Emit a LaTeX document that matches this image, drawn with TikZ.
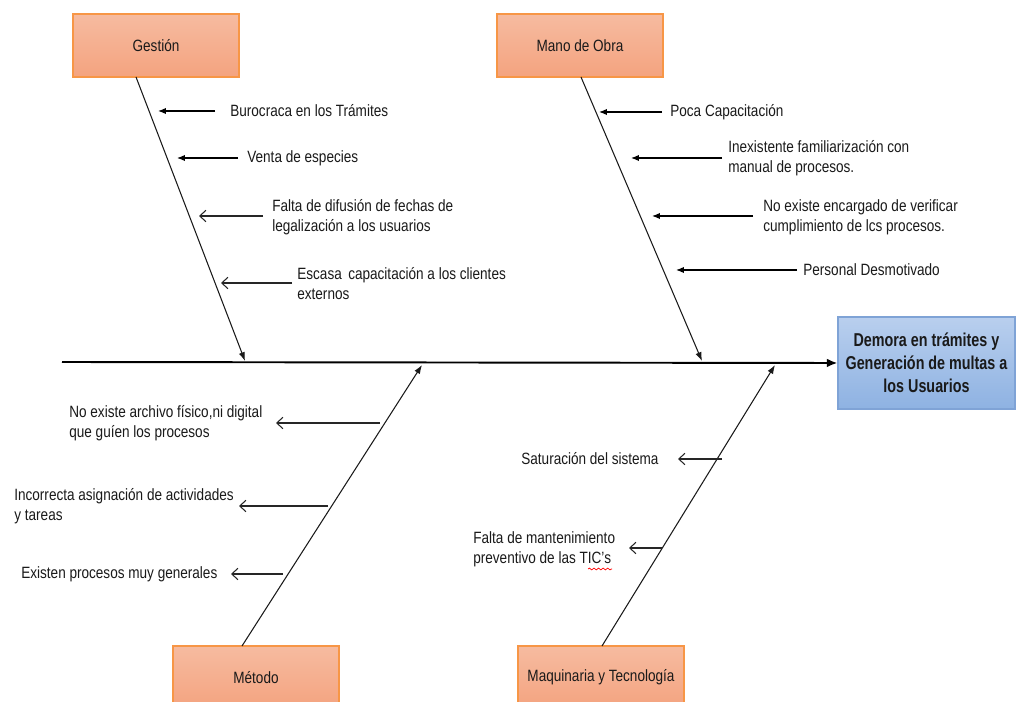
\documentclass[tikz,border=0pt]{standalone}
\usepackage{fontspec}
\setmainfont{Liberation Sans}[FakeStretch=0.83]
\newfontfamily\headfont{Liberation Sans}[FakeStretch=0.77]
\usetikzlibrary{arrows.meta,decorations.pathmorphing}

\definecolor{orangeedge}{HTML}{F79646}
\definecolor{orangetop}{HTML}{F6BBA0}
\definecolor{orangebot}{HTML}{F4A37F}
\definecolor{blueedge}{HTML}{7FA3D6}
\definecolor{bluetop}{HTML}{B9CFEE}
\definecolor{bluebot}{HTML}{8EB2E2}
\definecolor{inkgray}{HTML}{1A1A1A}

\begin{document}
\begin{tikzpicture}[x=0.02cm, y=-0.02cm,
  catbox/.style={draw=orangeedge, line width=0.7pt, top color=orangetop, bottom color=orangebot,
    minimum width=3.32cm, minimum height=1.26cm, inner sep=0pt, text=inkgray,
    font=\fontsize{9.3}{10}\selectfont},
  effbox/.style={draw=blueedge, line width=0.7pt, top color=bluetop, bottom color=bluebot,
    minimum width=3.54cm, minimum height=1.84cm, inner sep=0pt, align=center, text=inkgray,
    font=\headfont\fontsize{10.6}{13}\selectfont\bfseries},
  cause/.style={anchor=west, inner sep=0pt, align=left, text=inkgray,
    font=\fontsize{9.3}{11.4}\selectfont},
  bone/.style={draw=inkgray, line width=0.6pt, -{Latex[length=5pt,width=3.6pt]}},
  spine/.style={draw=black, line width=1.1pt, -{Latex[length=6pt,width=5pt]}},
  solidarrow/.style={draw=black, line width=0.7pt, -{Latex[length=4.5pt,width=3.6pt]}},
  openarrow/.style={draw=black!85, line width=0.6pt, -{Straight Barb[length=3.5pt,width=6.5pt]}},
  squiggle/.style={draw=red, line width=0.4pt, decorate,
    decoration={snake, segment length=2.6pt, amplitude=0.5pt}}
]
\clip (0,0) rectangle (1019,702);
\fill[white] (0,0) rectangle (1019,702);

% category boxes and the effect box
\node[catbox] (ges) at (156,45.5) {Gestión};
\node[catbox] (mano) at (580,45.5) {Mano de Obra};
\node[catbox] (met) at (256,677.5) {Método};
\node[catbox] (maq) at (601,677.5) {Maquinaria y Tecnología};
\node[effbox] (eff) at (926.5,363) {Demora en trámites y\\Generación de multas a\\los Usuarios};

% main spine
\coordinate (tail) at (62,362);
\draw[spine] (tail) -- (eff.west);

% bones: ends on the box edges and on the spine
\coordinate (gtop) at (136,77);
\coordinate (gtip) at (245,361);
\coordinate (mtop) at (581,77);
\coordinate (mtip) at (702,361);
\coordinate (metbot) at (242,646);
\coordinate (mettip) at (422,365);
\coordinate (maqbot) at (602,646);
\coordinate (maqtip) at (775,365);
\draw[bone] (gtop) -- (gtip);
\draw[bone] (mtop) -- (mtip);
\draw[bone] (metbot) -- (mettip);
\draw[bone] (maqbot) -- (maqtip);

% Gestion causes
\node[cause] (g1) at (230,111) {Burocraca en los Trámites};
\node[cause] (g2) at (247,158) {Venta de especies};
\node[cause] (g3) at (272,217) {Falta de difusión de fechas de\\legalización a los usuarios};
\node[cause] (g4) at (297,284) {Escasa\, capacitación a los clientes\\externos};
\coordinate (g1s) at (215,111); \coordinate (g1t) at (158,111);
\coordinate (g2s) at (238,158); \coordinate (g2t) at (177,158);
\coordinate (g3s) at (263,216); \coordinate (g3t) at (199,216);
\coordinate (g4s) at (292,283); \coordinate (g4t) at (221,283);
\draw[solidarrow] (g1s) -- (g1t);
\draw[solidarrow] (g2s) -- (g2t);
\draw[openarrow] (g3s) -- (g3t);
\draw[openarrow] (g4s) -- (g4t);

% Mano de Obra causes
\node[cause] (m1) at (670,112) {Poca Capacitación};
\node[cause] (m2) at (728,158) {Inexistente familiarización con\\manual de procesos.};
\node[cause] (m3) at (763,217) {No existe encargado de verificar\\cumplimiento de lcs procesos.};
\node[cause] (m4) at (803,270) {Personal Desmotivado};
\coordinate (m1s) at (662,112); \coordinate (m1t) at (599,112);
\coordinate (m2s) at (722,158); \coordinate (m2t) at (631,158);
\coordinate (m3s) at (753,216); \coordinate (m3t) at (652,216);
\coordinate (m4s) at (797,270); \coordinate (m4t) at (676,270);
\draw[solidarrow] (m1s) -- (m1t);
\draw[solidarrow] (m2s) -- (m2t);
\draw[solidarrow] (m3s) -- (m3t);
\draw[solidarrow] (m4s) -- (m4t);

% Metodo causes
\node[cause] (t1) at (69,423) {No existe archivo físico,ni digital\\que guíen los procesos};
\node[cause] (t2) at (14,506) {Incorrecta asignación de actividades\\y tareas};
\node[cause] (t3) at (21,574) {Existen procesos muy generales};
\coordinate (t1s) at (380,423); \coordinate (t1t) at (276,423);
\coordinate (t2s) at (328,506); \coordinate (t2t) at (239,506);
\coordinate (t3s) at (283,574); \coordinate (t3t) at (231,574);
\draw[openarrow] (t1s) -- (t1t);
\draw[openarrow] (t2s) -- (t2t);
\draw[openarrow] (t3s) -- (t3t);

% Maquinaria causes
\node[cause] (q1) at (521,459) {Saturación del sistema};
\node[cause] (q2) at (473,549) {Falta de mantenimiento\\preventivo de las TIC’s};
\coordinate (q1s) at (722,459); \coordinate (q1t) at (678,459);
\coordinate (q2s) at (662,548); \coordinate (q2t) at (629,548);
\draw[openarrow] (q1s) -- (q1t);
\draw[openarrow] (q2s) -- (q2t);

% spell-check mark under the acronym
\coordinate (sqa) at (588,569);
\coordinate (sqb) at (612,569);
\draw[squiggle] (sqa) -- (sqb);
\end{tikzpicture}
\end{document}
